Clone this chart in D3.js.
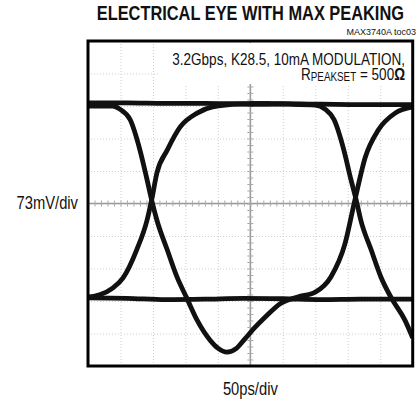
<!DOCTYPE html>
<html>
<head>
<meta charset="utf-8">
<script src="https://cdn.jsdelivr.net/npm/d3@7"></script>
<style>
  html, body { margin: 0; padding: 0; background: #fff; }
  svg { display: block; }
  text { font-family: "Liberation Sans", Arial, sans-serif; fill: #111; }
</style>
</head>
<body>
<svg id="chart" width="418" height="402"></svg>
<script>
// scope settings
const timePerDiv = 50; // ps
const voltPerDiv = 73; // mV
const divs = 10;

// traces, time in ps, level in mV
const highTime = [0, 60, 120, 180, 240, 300, 360, 420, 500];
const highMv = [226, 226, 225, 225, 224, 224, 223, 222, 222];

const lowTime = [0, 60, 120, 180, 240, 300, 360, 420, 500];
const lowMv = [-212, -213, -216, -215, -213, -214, -216, -215, -215];

// falling edge, undershoot, then rising edge again
const fallRiseTime = [0, 38, 49, 65, 80, 91, 98, 106, 122, 137, 152, 168, 188, 200, 214, 228, 241, 256, 273, 297, 323, 350, 374, 396, 411, 427, 447, 473, 500];
const fallRiseMv = [219, 219, 212, 188, 120, 53, 8, -37, -104, -165, -212, -262, -307, -325, -334, -326, -305, -280, -255, -224, -210, -199, -165, -89, 8, 104, 165, 203, 217];

// first rising edge
const riseTime = [0, 18, 38, 54, 75, 91, 98, 106, 122, 142, 168, 192, 234, 280];
const riseMv = [-210, -205, -190, -167, -104, -37, 8, 68, 120, 172, 203, 217, 223, 224];

// second falling edge
const fallTime = [250, 311, 350, 365, 379, 394, 405, 413, 420, 436, 451, 467, 488, 500];
const fallMv = [224, 223, 221, 212, 188, 120, 53, 8, -37, -104, -165, -212, -262, -302];

const traces = [
  d3.zip(highTime, highMv),
  d3.zip(lowTime, lowMv),
  d3.zip(fallRiseTime, fallRiseMv),
  d3.zip(riseTime, riseMv),
  d3.zip(fallTime, fallMv),
];

const svg = d3.select("#chart");
const plotL = 88, plotR = 412.7, plotT = 41, plotB = 366;

const x = d3.scaleLinear().domain([0, timePerDiv * divs]).range([plotL, plotR]);
const y = d3.scaleLinear().domain([-voltPerDiv * divs / 2, voltPerDiv * divs / 2]).range([plotB, plotT]);

// grid
svg.append("g")
  .attr("transform", `translate(0,${plotB})`)
  .call(d3.axisBottom(x).tickValues(d3.range(0, 501, timePerDiv)).tickSize(-(plotB - plotT)).tickFormat(""))
  .call(g => g.select(".domain").remove())
  .call(g => g.selectAll("line").attr("stroke", "#cfcfcf").attr("stroke-dasharray", "1,2"));

svg.append("g")
  .attr("transform", `translate(${plotL},0)`)
  .call(d3.axisLeft(y).tickValues(d3.range(-365, 366, voltPerDiv)).tickSize(-(plotR - plotL)).tickFormat(""))
  .call(g => g.select(".domain").remove())
  .call(g => g.selectAll("line").attr("stroke", "#cfcfcf").attr("stroke-dasharray", "1,2"));

// centre axes with minor ticks
svg.append("line")
  .attr("x1", x(250)).attr("x2", x(250)).attr("y1", plotT).attr("y2", plotB)
  .attr("stroke", "#999").attr("stroke-width", 1.5);
svg.append("line")
  .attr("x1", plotL).attr("x2", plotR).attr("y1", y(0)).attr("y2", y(0))
  .attr("stroke", "#999").attr("stroke-width", 1.5);

svg.append("g")
  .attr("transform", `translate(0,${y(0) - 3})`)
  .call(d3.axisBottom(x).tickValues(d3.range(0, 501, timePerDiv / 5)).tickSize(6).tickFormat(""))
  .call(g => g.select(".domain").remove())
  .call(g => g.selectAll("line").attr("stroke", "#aaa"));

svg.append("g")
  .attr("transform", `translate(${x(250) + 3},0)`)
  .call(d3.axisLeft(y).tickValues(d3.range(-365, 366, voltPerDiv / 5)).tickSize(6).tickFormat(""))
  .call(g => g.select(".domain").remove())
  .call(g => g.selectAll("line").attr("stroke", "#aaa"));

// white box behind the note
svg.append("rect")
  .attr("x", 158).attr("y", plotT + 2).attr("width", plotR - 160).attr("height", 41)
  .attr("fill", "#fff");

// traces
svg.append("clipPath").attr("id", "clip")
  .append("rect").attr("x", plotL).attr("y", plotT).attr("width", plotR - plotL).attr("height", plotB - plotT);

const line = d3.line()
  .x(d => x(d[0]))
  .y(d => y(d[1]))
  .curve(d3.curveMonotoneX);

svg.append("g")
  .attr("clip-path", "url(#clip)")
  .selectAll("path")
  .data(traces)
  .join("path")
  .attr("d", line)
  .attr("fill", "none")
  .attr("stroke", "#111")
  .attr("stroke-width", 4.8)
  .attr("stroke-linejoin", "round");

// frame
svg.append("rect")
  .attr("x", plotL).attr("y", plotT).attr("width", plotR - plotL).attr("height", plotB - plotT)
  .attr("fill", "none").attr("stroke", "#000").attr("stroke-width", 3);

// condensed text: no narrow face installed, so squeeze Liberation Sans
const narrow = 0.82;
const label = (tx, ty, anchor, size) =>
  svg.append("text")
    .attr("transform", `translate(${tx},${ty}) scale(${narrow},1)`)
    .attr("text-anchor", anchor)
    .style("font-size", size + "px");

label((plotL + plotR) / 2, 20, "middle", 20)
  .style("font-weight", "bold")
  .text("ELECTRICAL EYE WITH MAX PEAKING");

svg.append("text")
  .attr("x", 416).attr("y", 35)
  .attr("text-anchor", "end")
  .style("font-size", "9px")
  .text("MAX3740A toc03");

label(405, 64.5, "end", 16.5).text("3.2Gbps, K28.5, 10mA MODULATION,");

const note2 = label(405, 80, "end", 16.5);
note2.append("tspan").text("R");
note2.append("tspan").attr("dy", 1).style("font-size", "12px").text("PEAKSET");
note2.append("tspan").attr("dy", -1).text(" = 500");
note2.append("tspan").style("font-weight", "bold").text("Ω");

label(78, 209, "end", 18).text("73mV/div");

label((plotL + plotR) / 2, 395, "middle", 18).text("50ps/div");
</script>
</body>
</html>
